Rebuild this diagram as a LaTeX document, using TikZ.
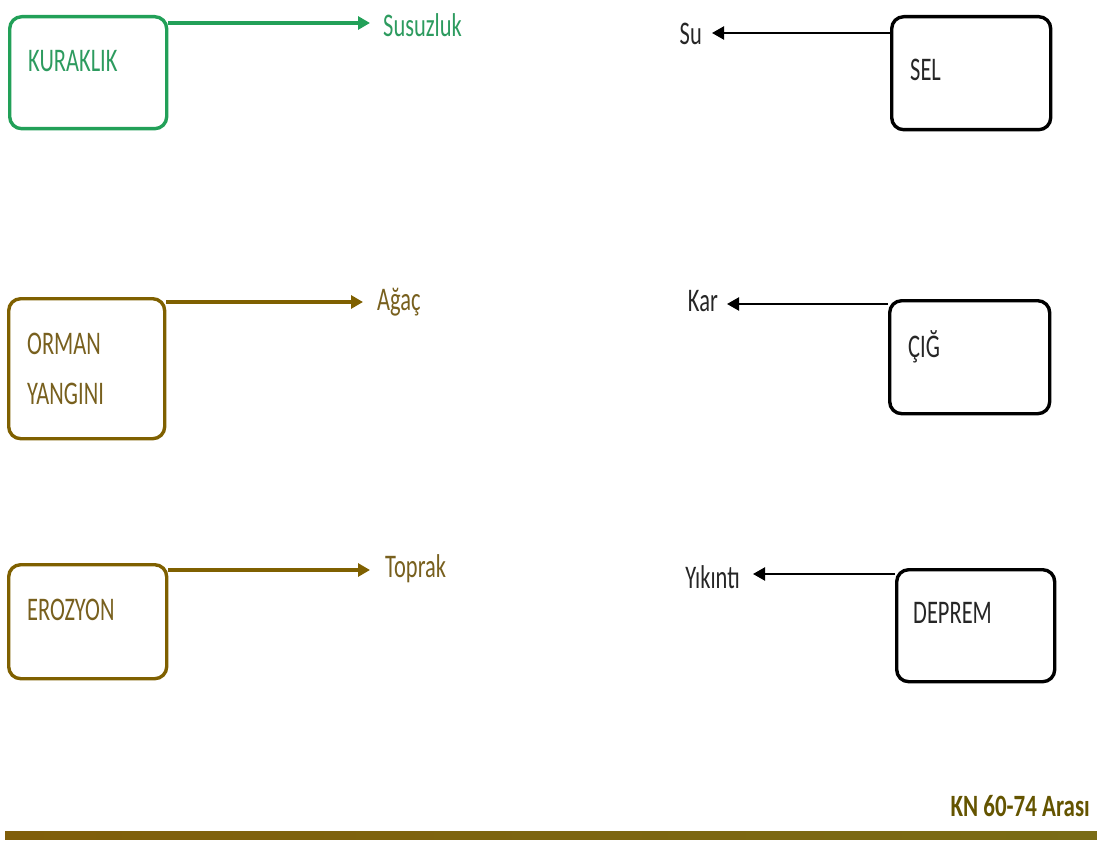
\documentclass[tikz,border=0pt]{standalone}
\usepackage{fontspec}
\setmainfont{Carlito}[FakeStretch=0.68]
\newfontfamily\footfont{Carlito}[FakeStretch=0.74]
\usetikzlibrary{arrows.meta,calc}
\definecolor{drygreen}{RGB}{34,160,88}
\definecolor{drygreentext}{RGB}{45,155,95}
\definecolor{earth}{RGB}{127,96,0}
\definecolor{earthtext}{RGB}{120,96,30}
\definecolor{footcol}{RGB}{100,84,0}
\definecolor{barleft}{RGB}{128,94,10}
\definecolor{barright}{RGB}{122,108,22}
\tikzset{
  hazard/.style={draw, line width=3.4pt, rounded corners=12pt, anchor=north west, inner sep=0pt},
  boxtext/.style={anchor=west, inner sep=0pt, font=\fontsize{33}{50}\selectfont, align=left},
  effect/.style={inner sep=0pt, font=\fontsize{33}{40}\selectfont},
  outarrow/.style={line width=3.4pt, -{Triangle[length=12pt,width=13pt]}},
  inarrow/.style={line width=2.2pt, -{Triangle[length=12pt,width=13pt]}}
}
\begin{document}
\begin{tikzpicture}[x=1pt,y=-1pt]
\useasboundingbox (0,0) rectangle (1097,842);

% left column: hazards with an arrow pointing right
\node[hazard, drygreen, minimum width=157pt, minimum height=112pt] (kur) at (8,15) {};
\node[boxtext, drygreentext] (kurT) at (28,61) {KURAKLIK};
\node[effect, drygreentext, anchor=west] (susuz) at (383,25) {Susuzluk};
\coordinate (kurA) at ($(kur.north east)+(0,8)$);
\draw[outarrow, drygreen, shorten >=13pt] (kurA) -- (kurA -| susuz.west);

\node[hazard, earth, minimum width=156pt, minimum height=140pt] (orm) at (7,297) {};
\node[boxtext, earthtext] (ormT) at (27,369) {ORMAN\\YANGINI};
\node[effect, earthtext, anchor=west] (agac) at (377,302) {Ağaç};
\coordinate (ormA) at ($(orm.north east)+(0,5)$);
\draw[outarrow, earth, shorten >=14pt] (ormA) -- (ormA -| agac.west);

\node[hazard, earth, minimum width=158pt, minimum height=114pt] (ero) at (7,563) {};
\node[boxtext, earthtext] (eroT) at (27,610) {EROZYON};
\node[effect, earthtext, anchor=west] (toprak) at (385,569) {Toprak};
\coordinate (eroA) at ($(ero.north east)+(0,7)$);
\draw[outarrow, earth, shorten >=15pt] (eroA) -- (eroA -| toprak.west);

% right column: hazards with an arrow pointing left
\node[hazard, black, minimum width=159pt, minimum height=113pt] (sel) at (890,15) {};
\node[boxtext, black!85] (selT) at (910,70) {SEL};
\node[effect, black!85, anchor=east] (su) at (702,34) {Su};
\coordinate (selA) at ($(sel.north west)+(0,18)$);
\draw[inarrow, black, shorten >=10pt] (selA) -- (selA -| su.east);

\node[hazard, black, minimum width=160pt, minimum height=113pt] (cig) at (888,299) {};
\node[boxtext, black!85] (cigT) at (908,347) {ÇIĞ};
\node[effect, black!85, anchor=east] (kar) at (718,301) {Kar};
\coordinate (cigA) at ($(cig.north west)+(0,5)$);
\draw[inarrow, black, shorten >=9pt] (cigA) -- (cigA -| kar.east);

\node[hazard, black, minimum width=158pt, minimum height=112pt] (dep) at (895,568) {};
\node[boxtext, black!85] (depT) at (913,613) {DEPREM};
\node[effect, black!85, anchor=east] (yik) at (740,577) {Yıkıntı};
\coordinate (depA) at ($(dep.north west)+(0,6)$);
\draw[inarrow, black, shorten >=13pt] (depA) -- (depA -| yik.east);

% footer
\node[anchor=east, inner sep=0pt, text=footcol, font=\footfont\bfseries\fontsize{31}{36}\selectfont] (foot) at (1090,806) {KN 60-74 Arası};
\shade[left color=barleft, right color=barright] (5,831) rectangle (1097,839);
\end{tikzpicture}
\end{document}
